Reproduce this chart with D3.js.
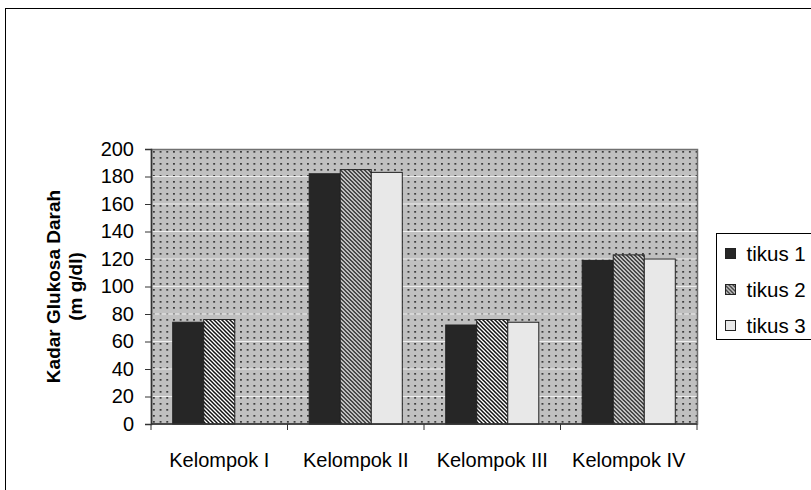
<!DOCTYPE html>
<html>
<head>
<meta charset="utf-8">
<script src="https://cdn.jsdelivr.net/npm/d3@7"></script>
<style>
  body { margin: 0; background: #fff; }
  svg text { font-family: Arial, "Liberation Sans", sans-serif; fill: #000; }
</style>
</head>
<body>
<div id="chart"></div>
<script>
const categories = ["Kelompok I", "Kelompok II", "Kelompok III", "Kelompok IV"];
const seriesNames = ["tikus 1", "tikus 2", "tikus 3"];
const tikus1 = [74, 182, 72, 119];
const tikus2 = [76, 185, 76, 123];
const tikus3 = [0, 183, 74, 120];
const yTicks = [0, 20, 40, 60, 80, 100, 120, 140, 160, 180, 200];

const seriesValues = [tikus1, tikus2, tikus3];
const width = 811, height = 490;
const margin = { top: 149, right: 114, bottom: 66, left: 151 };
const innerWidth = width - margin.left - margin.right;
const innerHeight = height - margin.top - margin.bottom;

const svg = d3.select("#chart").append("svg")
  .attr("width", width)
  .attr("height", height);

// patterns: dotted plot area, diagonal hatch for tikus 2
const defs = svg.append("defs");
const dots = defs.append("pattern")
  .attr("id", "dots")
  .attr("patternUnits", "userSpaceOnUse")
  .attr("width", 6.7).attr("height", 6);
dots.append("rect").attr("width", 6.7).attr("height", 6).attr("fill", "#c0c0c0");
dots.append("rect").attr("x", 2).attr("y", 2).attr("width", 1.7).attr("height", 1.7).attr("fill", "#2e2e2e");

const hatch = defs.append("pattern")
  .attr("id", "hatch")
  .attr("patternUnits", "userSpaceOnUse")
  .attr("width", 4).attr("height", 4);
hatch.append("rect").attr("width", 4).attr("height", 4).attr("fill", "#fff");
hatch.append("path")
  .attr("d", "M-1,-1L5,5M-1,3L1,5M3,-1L5,1")
  .attr("stroke", "#111")
  .attr("stroke-width", 1.5);

const fills = ["#262626", "url(#hatch)", "#e8e8e8"];

// outer chart border
svg.append("rect")
  .attr("x", 5.5).attr("y", 8.5)
  .attr("width", 830).attr("height", 500)
  .attr("fill", "none")
  .attr("stroke", "#000");

const chart = svg.append("g")
  .attr("transform", `translate(${margin.left},${margin.top})`);

const x = d3.scaleBand()
  .domain(categories)
  .range([0, innerWidth])
  .padding(0);

const y = d3.scaleLinear()
  .domain([0, 200])
  .range([innerHeight, 0]);

const barW = x.bandwidth() / 4.4;
const sub = d3.scaleBand()
  .domain(seriesNames)
  .range([(x.bandwidth() - 3 * barW) / 2, (x.bandwidth() + 3 * barW) / 2]);

// plot area
chart.append("rect")
  .attr("width", innerWidth)
  .attr("height", innerHeight)
  .attr("fill", "url(#dots)");

chart.selectAll(".grid")
  .data(yTicks.slice(1, -1))
  .join("line")
  .attr("class", "grid")
  .attr("x1", 0).attr("x2", innerWidth)
  .attr("y1", d => y(d)).attr("y2", d => y(d))
  .attr("stroke", "#eee")
  .attr("stroke-width", 1.2);

chart.append("rect")
  .attr("x", 0.5).attr("y", 0.5)
  .attr("width", innerWidth).attr("height", innerHeight - 0.5)
  .attr("fill", "none")
  .attr("stroke", "#707070")
  .attr("stroke-width", 1.5);

// bars
const groups = chart.selectAll(".group")
  .data(categories)
  .join("g")
  .attr("class", "group")
  .attr("transform", d => `translate(${x(d)},0)`);

groups.selectAll("rect")
  .data((c, i) => seriesNames.map((s, j) => ({ s, j, v: seriesValues[j][i] })))
  .join("rect")
  .filter(d => d.v > 0)
  .attr("x", d => sub(d.s))
  .attr("y", d => y(d.v))
  .attr("width", sub.bandwidth())
  .attr("height", d => innerHeight - y(d.v))
  .attr("fill", d => fills[d.j])
  .attr("stroke", "#222")
  .attr("stroke-width", 1);

// axes
const yAxis = chart.append("g")
  .call(d3.axisLeft(y).tickValues(yTicks).tickSize(6).tickPadding(11));
yAxis.select(".domain").attr("stroke", "#333").attr("stroke-width", 1.5);
yAxis.selectAll(".tick line").attr("stroke", "#333");
yAxis.selectAll("text").style("font-size", "20px");

const xAxis = chart.append("g")
  .attr("transform", `translate(0,${innerHeight})`);
xAxis.append("line")
  .attr("x1", 0).attr("x2", innerWidth)
  .attr("stroke", "#333").attr("stroke-width", 1.5);
xAxis.selectAll(".xtick")
  .data(d3.range(categories.length + 1))
  .join("line")
  .attr("class", "xtick")
  .attr("x1", i => i * x.step()).attr("x2", i => i * x.step())
  .attr("y1", 0).attr("y2", 6)
  .attr("stroke", "#333");
xAxis.selectAll(".xlabel")
  .data(categories)
  .join("text")
  .attr("class", "xlabel")
  .attr("x", d => x(d) + x.bandwidth() / 2)
  .attr("y", 43)
  .attr("text-anchor", "middle")
  .style("font-size", "20px")
  .text(d => d);

// y-axis title
const title = svg.append("text")
  .attr("transform", `translate(60,${margin.top + innerHeight / 2}) rotate(-90)`)
  .attr("text-anchor", "middle")
  .style("font-size", "19px")
  .style("font-weight", "bold");
title.append("tspan").attr("x", 0).attr("dy", 0).text("Kadar Glukosa Darah");
title.append("tspan").attr("x", 0).attr("dy", 22).text("(m g/dl)");

// legend
const legend = svg.append("g").attr("transform", "translate(716.5,233.5)");
legend.append("rect")
  .attr("width", 120).attr("height", 106)
  .attr("fill", "#fff")
  .attr("stroke", "#000");
const items = legend.selectAll(".item")
  .data(seriesNames)
  .join("g")
  .attr("class", "item")
  .attr("transform", (d, i) => `translate(9,${20 + i * 36})`);
items.append("rect")
  .attr("y", -5).attr("width", 10).attr("height", 10)
  .attr("fill", (d, i) => fills[i])
  .attr("stroke", "#222");
items.append("text")
  .attr("x", 21)
  .attr("dy", "0.35em")
  .style("font-size", "20.5px")
  .text(d => d);
</script>
</body>
</html>
